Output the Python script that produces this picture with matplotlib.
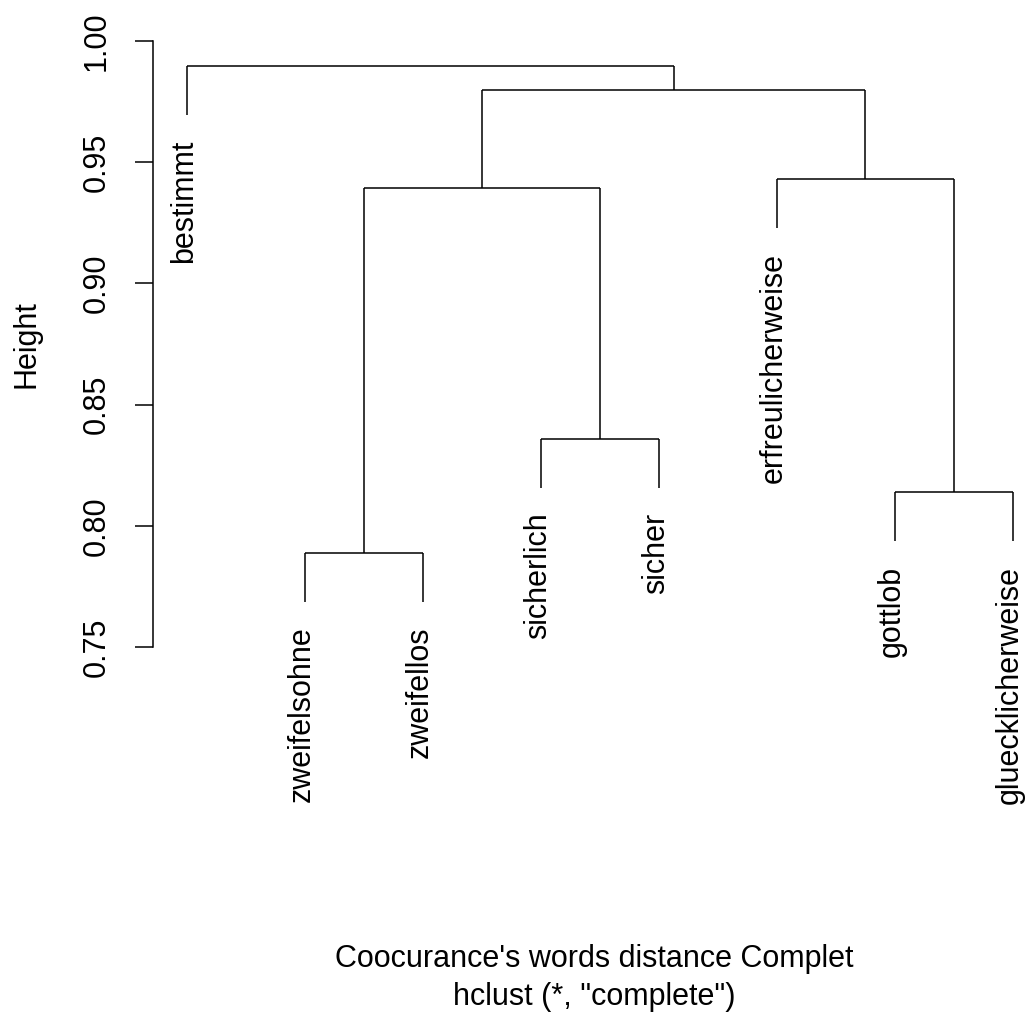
import matplotlib
matplotlib.use("Agg")
import matplotlib.pyplot as plt

plt.rcParams['font.family'] = ['Liberation Sans', 'DejaVu Sans']

# leaf labels in display order
labels = ["bestimmt", "zweifelsohne", "zweifellos", "sicherlich", "sicher",
          "erfreulicherweise", "gottlob", "gluecklicherweise"]
# merges, R hclust convention: negative = leaf (1-based index in labels), positive = earlier merge
merge_left = [-2, -7, -4, 1, -6, 4, -1]
merge_right = [-3, -8, -5, 3, 2, 5, 6]
merge_height = [0.7888, 0.8139, 0.8358, 0.9394, 0.9431, 0.9798, 0.9897]
y_ticks = [0.75, 0.80, 0.85, 0.90, 0.95, 1.00]
hang = 0.1

FS = 22

fig = plt.figure(figsize=(10.28, 10.14), dpi=100)
W, H = 1028, 1014
left_px, right_px = 153, 1046
top_px, bot_px = 28.9, 659.0
ax = fig.add_axes([left_px / W, 1 - bot_px / H, (right_px - left_px) / W, (bot_px - top_px) / H])
ax.set_xlim(1 - 34 / 118, 8.28)
ax.set_ylim(0.745, 1.005)

hang_len = hang * (max(merge_height) - min(merge_height))
lw = 1.1
col = "black"

node_x = {}
for k, (a, b, h) in enumerate(zip(merge_left, merge_right, merge_height), start=1):
    xs = []
    for c in (a, b):
        if c < 0:
            xi = -c
            ax.plot([xi, xi], [h, h - hang_len], color=col, lw=lw, solid_capstyle='butt')
            ax.annotate(labels[xi - 1], xy=(xi, h - hang_len), xytext=(-2, -18),
                        textcoords='offset points', rotation=90, ha='center', va='top',
                        fontsize=FS)
            xs.append(xi)
        else:
            cx, ch = node_x[c]
            ax.plot([cx, cx], [h, ch], color=col, lw=lw, solid_capstyle='butt')
            xs.append(cx)
    ax.plot([xs[0], xs[1]], [h, h], color=col, lw=lw, solid_capstyle='butt')
    node_x[k] = ((xs[0] + xs[1]) / 2, h)

for s in ['top', 'right', 'bottom']:
    ax.spines[s].set_visible(False)
ax.spines['left'].set_bounds(y_ticks[0], y_ticks[-1])
ax.spines['left'].set_linewidth(lw)
ax.set_xticks([])
ax.set_yticks(y_ticks)
ax.set_yticklabels([f"{t:.2f}" for t in y_ticks], rotation=90, va='center')
ax.tick_params(axis='y', length=13, width=lw, pad=16.5, labelsize=FS)
ax.set_ylabel("Height", fontsize=FS, labelpad=29)
ax.patch.set_alpha(0)

fig.text(594 / W, 1 - 967 / H, "Coocurance's words distance Complet", ha='center',
         va='baseline', fontsize=FS)
fig.text(594 / W, 1 - 1005 / H, 'hclust (*, "complete")', ha='center',
         va='baseline', fontsize=FS)

fig.savefig("out.png", dpi=100)
